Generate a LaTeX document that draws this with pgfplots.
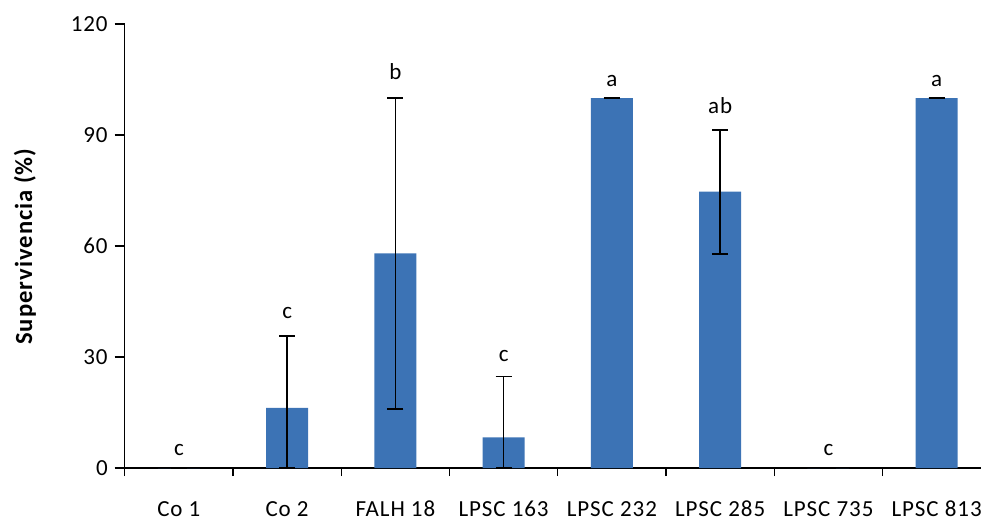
\documentclass[border=0pt]{standalone}
\usepackage{fontspec}
\setmainfont{Carlito}[LetterSpace=4]
\usepackage{pgfplots}
\usepackage{pgfplotstable}
\pgfplotsset{compat=1.18}
\definecolor{barblue}{RGB}{60,115,181}
\pgfplotstableread{
x y ep em
0 0 0 0
1 16.3 19.4 16.3
2 58.0 42.0 42.0
3 8.3 16.5 8.3
4 100 0 0
5 74.7 16.7 16.9
6 0 0 0
7 100 0 0
}\bars
\pgfplotstableread{
x y lab
0 3.5 c
1 40.5 c
2 104.9 b
3 28.9 c
4 103.0 a
5 95.7 ab
6 3.5 c
7 103.0 a
}\letters
\begin{document}
\begin{tikzpicture}
\begin{axis}[
  scale only axis, width=428pt, height=222pt,
  xmin=-0.5, xmax=7.41, ymin=0, ymax=120,
  axis x line=bottom, axis y line=left, axis line style={-, line width=0.7pt},
  ytick={0,30,...,120},
  xtick={0,...,7},
  xticklabels={Co 1,Co 2,FALH 18,LPSC 163,LPSC 232,LPSC 285,LPSC 735,LPSC 813},
  major x tick style={draw=none},
  minor xtick={-0.5,0.5,...,6.5},
  tick align=outside, tick style={black, line width=0.7pt},
  major tick length=5pt, minor tick length=4pt,
  /pgf/number format/assume math mode=true,
  tick label style={font=\fontsize{11.5}{13}\selectfont},
  xticklabel style={yshift=-8pt},
  ylabel={\textbf{Supervivencia (\%)}},
  ylabel style={font=\fontsize{12.3}{14}\selectfont, at={(axis description cs:-0.1165,0.5)}, anchor=center},
  clip=false,
]
\addplot[ybar, bar width=20.9pt, fill=barblue, draw=none,
  error bars/.cd, y dir=both, y explicit,
  error bar style={black, line width=0.8pt},
  error mark options={black, mark size=4pt, rotate=90, line width=0.8pt}]
  table[x=x, y=y, y error plus=ep, y error minus=em] {\bars};
\addplot[draw=none, mark=none, nodes near coords, point meta=explicit symbolic,
  every node near coord/.style={anchor=base, inner sep=0pt, font=\fontsize{11.5}{13}\selectfont, black}]
  table[x=x, y=y, meta=lab] {\letters};
\end{axis}
\pgfresetboundingbox
\path ([xshift=-62.35pt,yshift=-26.5pt]current axis.south west) rectangle ([yshift=12pt]current axis.north east);
\end{tikzpicture}
\end{document}
